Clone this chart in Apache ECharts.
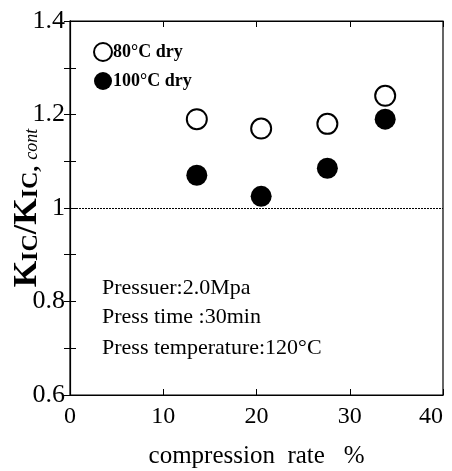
<!DOCTYPE html>
<html lang="en">
<head>
    <meta charset="UTF-8">
    <title>KIC ratio vs compression rate</title>
    <style>
        body { margin: 0; background: #fff; }
    </style>
</head>
<body>
    <script src="https://cdn.jsdelivr.net/npm/echarts@6/dist/echarts.min.js"></script>
    <div id="main" style="width: 452px;height:471px;"></div>
    <script>
        // 压缩率 (x) 与两组数据
        var compressionRate = [13.6, 20.5, 27.6, 33.8];
        var dry80 = [1.19, 1.17, 1.18, 1.24];
        var dry100 = [1.07, 1.025, 1.085, 1.19];
        var yTicks = [0.6, 0.8, 1, 1.2, 1.4];
        var xTicks = [0, 10, 20, 30, 40];

        function pairs(xs, ys) {
            var out = [];
            for (var i = 0; i < xs.length; i++) {
                out.push([xs[i], ys[i]]);
            }
            return out;
        }

        var font = 'Liberation Serif';
        var myChart = echarts.init(document.getElementById('main'));

        var option = {
            animation: false,
            backgroundColor: '#fff',
            grid: {
                left: 70, right: 9, top: 21, bottom: 76,
                outerBoundsMode: 'none', containLabel: false,
                show: true, borderColor: '#000', borderWidth: 1.2
            },
            legend: {
                orient: 'vertical',
                left: 88, top: 37,
                itemGap: 10,
                itemWidth: 18, itemHeight: 18,
                icon: 'circle',
                textStyle: { fontFamily: font, fontSize: 18, fontWeight: 'bold', color: '#000', padding: [0, 0, 0, -4] },
                data: ['80°C dry', '100°C dry']
            },
            xAxis: [{
                type: 'value', min: 0, max: 40, interval: 10,
                axisLine: { show: true, lineStyle: { color: '#000', width: 1.2 } },
                axisTick: { inside: true, length: 6, lineStyle: { color: '#000' } },
                splitLine: { show: false },
                axisLabel: {
                    fontFamily: font, fontSize: 24, color: '#000', margin: 10,
                    alignMaxLabel: 'right',
                    formatter: function (v) { return xTicks.indexOf(v) >= 0 ? String(v) : ''; }
                },
                name: 'compression  rate   %',
                nameLocation: 'middle', nameGap: 49, nameMoveOverlap: false,
                nameTextStyle: { fontFamily: font, fontSize: 25, color: '#000' }
            }, {
                type: 'value', min: 0, max: 40, interval: 10, position: 'top',
                axisLine: { show: true, lineStyle: { color: '#000' } },
                axisTick: { inside: true, length: 6, lineStyle: { color: '#000' } },
                axisLabel: { show: false }, splitLine: { show: false }
            }],
            yAxis: [{
                type: 'value', min: 0.6, max: 1.4, interval: 0.2,
                axisLine: { show: true, lineStyle: { color: '#000', width: 1.2 } },
                axisTick: { inside: true, length: 6, lineStyle: { color: '#000' } },
                minorTick: { show: true, splitNumber: 2, length: 6, lineStyle: { color: '#000' } },
                splitLine: { show: false },
                axisLabel: {
                    fontFamily: font, fontSize: 26, color: '#000', margin: 5,
                    formatter: function (v) {
                        var r = Math.round(v * 10) / 10;
                        return yTicks.indexOf(r) >= 0 ? (r === 1 ? '1' : r.toFixed(1)) : '';
                    }
                },
                name: '{b|K}{s|IC}{b|/K}{s|IC, }{i|cont}',
                nameLocation: 'middle', nameGap: 26, nameMoveOverlap: false,
                nameTextStyle: {
                    fontFamily: font, color: '#000',
                    rich: {
                        b: { fontFamily: font, fontSize: 34, fontWeight: 'bold', color: '#000' },
                        s: { fontFamily: font, fontSize: 24, fontWeight: 'bold', color: '#000', padding: [8, 0, 0, 0] },
                        i: { fontFamily: font, fontSize: 18, fontStyle: 'italic', color: '#000', padding: [10, 0, 0, 0] }
                    }
                }
            }, {
                type: 'value', min: 0.6, max: 1.4, interval: 0.2, position: 'right',
                axisLine: { show: true, lineStyle: { color: '#000' } },
                axisTick: { inside: true, length: 6, lineStyle: { color: '#000' } },
                minorTick: { show: true, splitNumber: 2, length: 6, lineStyle: { color: '#000' } },
                axisLabel: { show: false }, splitLine: { show: false }
            }],
            series: [{
                name: '80°C dry',
                type: 'scatter',
                symbol: 'circle', symbolSize: 20,
                itemStyle: { color: '#fff', borderColor: '#000', borderWidth: 2, opacity: 1 },
                data: pairs(compressionRate, dry80),
                markLine: {
                    silent: true, symbol: 'none',
                    label: { show: false },
                    lineStyle: { color: '#000', type: [2, 1], width: 1 },
                    data: [{ yAxis: 1 }]
                }
            }, {
                name: '100°C dry',
                type: 'scatter',
                symbol: 'circle', symbolSize: 21,
                itemStyle: { color: '#000', opacity: 1 },
                data: pairs(compressionRate, dry100)
            }],
            graphic: [{
                type: 'group', left: 102, top: 277,
                children: [
                    { type: 'text', x: 0, y: 0, style: { text: 'Pressuer:2.0Mpa', font: '22px "Liberation Serif"', fill: '#000' } },
                    { type: 'text', x: 0, y: 29, style: { text: 'Press time :30min', font: '22px "Liberation Serif"', fill: '#000' } },
                    { type: 'text', x: 0, y: 60, style: { text: 'Press temperature:120°C', font: '22px "Liberation Serif"', fill: '#000' } }
                ]
            }]
        };
        myChart.setOption(option);
    </script>
</body>
</html>
